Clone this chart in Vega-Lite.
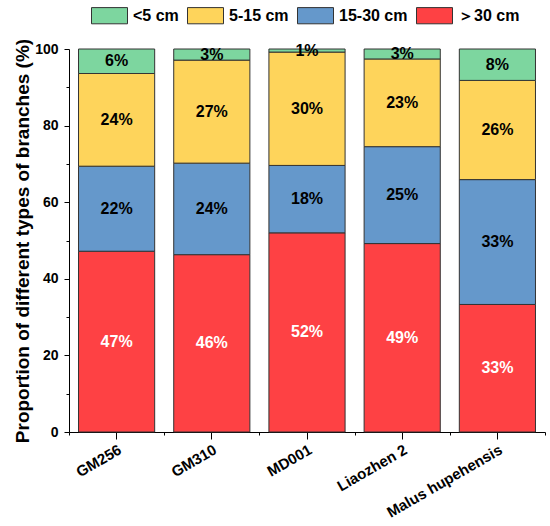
{
  "$schema": "https://vega.github.io/schema/vega-lite/v6.json",
  "width": 476,
  "height": 383,
  "autosize": {"type": "none"},
  "padding": {"left": 69, "top": 49, "right": 5, "bottom": 94},
  "config": {
    "view": {"stroke": null},
    "font": "Liberation Sans",
    "axis": {
      "domainColor": "#000", "tickColor": "#000", "labelColor": "#000", "titleColor": "#000",
      "labelFont": "Liberation Sans", "titleFont": "Liberation Sans",
      "labelFontWeight": "bold", "titleFontWeight": "bold",
      "domainWidth": 1, "tickWidth": 1, "grid": false
    }
  },
  "data": {
    "values": [
      {"variety": "GM256", "type": "＞30 cm", "value": 47.2},
      {"variety": "GM256", "type": "15-30 cm", "value": 22.2},
      {"variety": "GM256", "type": "5-15 cm", "value": 24.2},
      {"variety": "GM256", "type": "<5 cm", "value": 6.4},
      {"variety": "GM310", "type": "＞30 cm", "value": 46.3},
      {"variety": "GM310", "type": "15-30 cm", "value": 23.9},
      {"variety": "GM310", "type": "5-15 cm", "value": 26.9},
      {"variety": "GM310", "type": "<5 cm", "value": 2.9},
      {"variety": "MD001", "type": "＞30 cm", "value": 52.0},
      {"variety": "MD001", "type": "15-30 cm", "value": 17.6},
      {"variety": "MD001", "type": "5-15 cm", "value": 29.6},
      {"variety": "MD001", "type": "<5 cm", "value": 0.8},
      {"variety": "Liaozhen 2", "type": "＞30 cm", "value": 49.2},
      {"variety": "Liaozhen 2", "type": "15-30 cm", "value": 25.3},
      {"variety": "Liaozhen 2", "type": "5-15 cm", "value": 22.9},
      {"variety": "Liaozhen 2", "type": "<5 cm", "value": 2.6},
      {"variety": "Malus hupehensis", "type": "＞30 cm", "value": 33.3},
      {"variety": "Malus hupehensis", "type": "15-30 cm", "value": 32.6},
      {"variety": "Malus hupehensis", "type": "5-15 cm", "value": 25.9},
      {"variety": "Malus hupehensis", "type": "<5 cm", "value": 8.2}
    ]
  },
  "transform": [
    {"calculate": "indexof(['＞30 cm','15-30 cm','5-15 cm','<5 cm'], datum.type)", "as": "rank"},
    {"stack": "value", "groupby": ["variety"], "sort": [{"field": "rank"}], "as": ["y0", "y1"]},
    {"calculate": "(datum.y0 + datum.y1) / 2", "as": "mid"},
    {"calculate": "format(datum.value, '.0f') + '%'", "as": "label"}
  ],
  "layer": [
    {
      "mark": {"type": "bar", "stroke": "#333", "strokeWidth": 1, "width": {"band": 0.8}},
      "encoding": {
        "x": {
          "field": "variety", "type": "nominal", "sort": null,
          "scale": {"paddingInner": 0, "paddingOuter": 0},
          "axis": {"title": null, "labelAngle": -30, "labelFontSize": 15, "tickSize": 7, "labelPadding": 3}
        },
        "y": {
          "field": "y0", "type": "quantitative",
          "scale": {"domain": [0, 100], "nice": false},
          "axis": {
            "title": "Proportion of different types of branches (%)", "titleFontSize": 19,
            "values": [0, 20, 40, 60, 80, 100], "tickSize": 5, "labelFontSize": 14,
            "labelPadding": 6, "titlePadding": 2
          }
        },
        "y2": {"field": "y1"},
        "color": {
          "field": "type", "type": "nominal",
          "scale": {"domain": ["<5 cm", "5-15 cm", "15-30 cm", "＞30 cm"], "range": ["#7dd69f", "#fed45b", "#6598cb", "#fe4144"]},
          "legend": {
            "title": null, "orient": "none", "legendX": 22, "legendY": -52, "direction": "horizontal",
            "symbolType": "M-1,-0.45H1V0.45H-1Z", "symbolSize": 1296,
            "symbolStrokeColor": "#333", "symbolStrokeWidth": 1, "symbolOpacity": 1,
            "labelFontSize": 16, "labelFont": "Liberation Sans", "labelFontWeight": "bold",
            "labelOffset": 5, "columnPadding": 6, "padding": 0, "labelColor": "#000"
          }
        }
      }
    },
    {
      "mark": {"type": "text", "fontSize": 16, "fontWeight": "bold", "font": "Liberation Sans"},
      "encoding": {
        "x": {
          "field": "variety", "type": "nominal", "sort": null,
          "axis": {"orient": "bottom", "tickBand": "extent", "labels": false, "domain": false, "tickSize": 3, "title": null}
        },
        "y": {
          "field": "mid", "type": "quantitative",
          "axis": {"orient": "left", "values": [10, 30, 50, 70, 90], "labels": false, "domain": false, "tickSize": 3, "title": null}
        },
        "text": {"field": "label"},
        "color": {"condition": {"test": "datum.type === '＞30 cm'", "value": "white"}, "value": "black"}
      }
    }
  ],
  "resolve": {"axis": {"x": "independent", "y": "independent"}}
}
